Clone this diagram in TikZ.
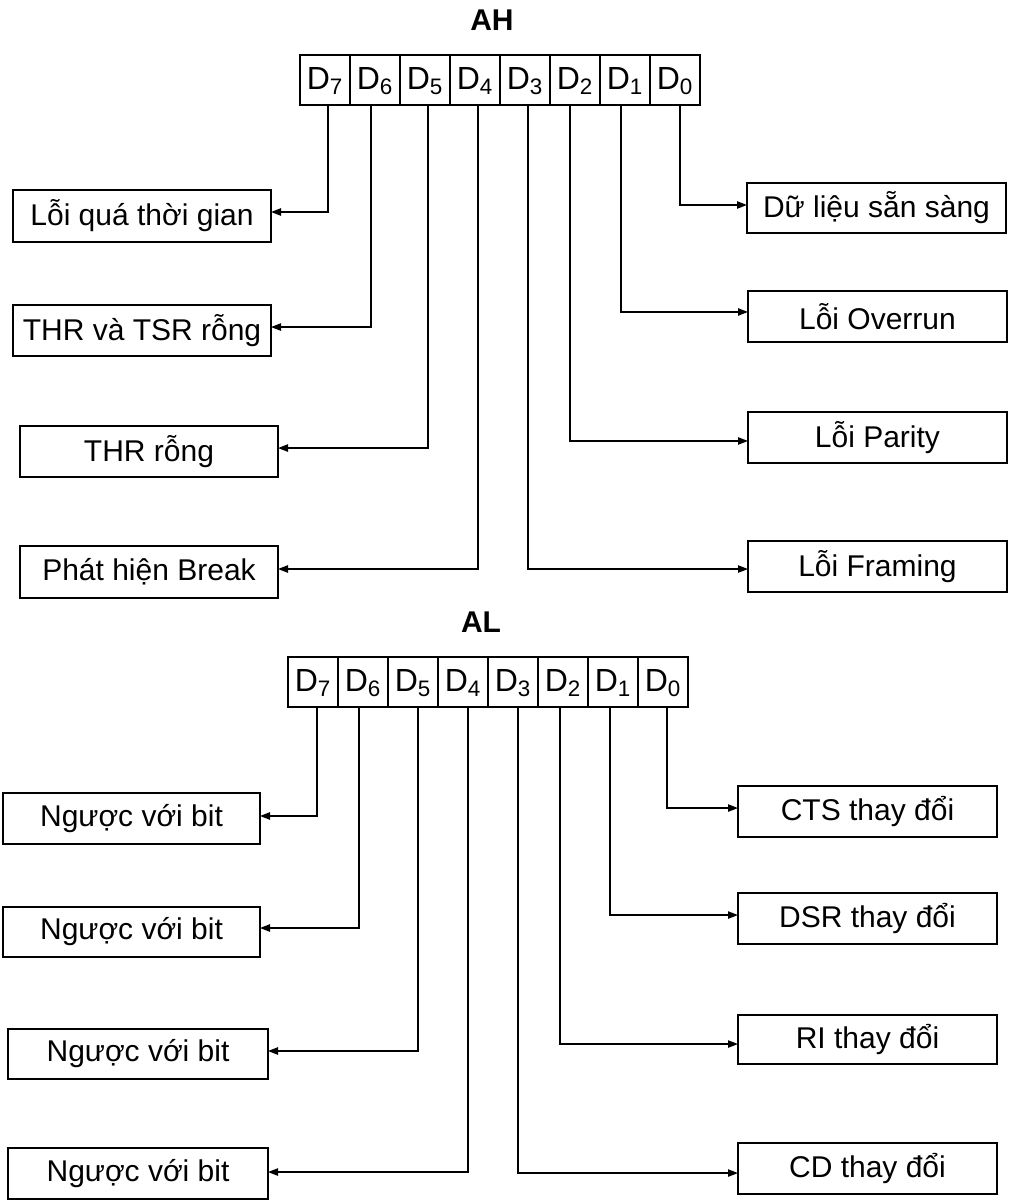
\documentclass[tikz,border=0pt]{standalone}
\usepackage{fontspec}
\setmainfont{Liberation Sans}
\usetikzlibrary{arrows.meta}

\begin{document}
\begin{tikzpicture}[x=0.75pt,y=-0.75pt,
  txt/.style={font=\fontsize{22.5}{27}\selectfont},
  title/.style={font=\fontsize{22.5}{27}\selectfont\bfseries},
  bitcell/.style={draw,line width=1.5pt,minimum width=37.5pt,minimum height=37.5pt,
    inner sep=0pt,outer sep=0pt,text height=17pt,text depth=3pt,
    font=\fontsize{24}{28}\selectfont},
  flagbox/.style 2 args={draw,line width=1.6pt,minimum width={#1*0.75pt},
    minimum height={#2*0.75pt},inner sep=0pt,outer sep=0pt,txt},
  conn/.style={line width=1.05pt,-{Triangle[length=7.5pt,width=5.5pt]}}]

\useasboundingbox (0,0) rectangle (1013,1204);

% ---------------- register AH ----------------
\node[title] (ah) at (492,20) {AH};
\foreach \i [count=\k from 0] in {7,6,5,4,3,2,1,0}
  \node[bitcell] (h\i) at (325+50*\k,80) {D\textsubscript{\i}};

\node[flagbox={258}{52}] (t1) at (142,216)   {Lỗi quá thời gian};
\node[flagbox={258}{51}] (t2) at (142,330.5) {THR và TSR rỗng};
\node[flagbox={258}{51}] (t3) at (149,451.5) {THR rỗng};
\node[flagbox={258}{52}] (t4) at (149,572)   {Phát hiện Break};

\node[flagbox={259}{50}] (r0) at (876.5,208)   {Dữ liệu sẵn sàng};
\node[flagbox={259}{51}] (r1) at (877.5,316.5) {Lỗi Overrun};
\node[flagbox={259}{51}] (r2) at (877.5,437.5) {Lỗi Parity};
\node[flagbox={259}{51}] (r3) at (877.5,566.5) {Lỗi Framing};

\draw[conn] ([xshift=2.25pt]h7.south)  |- ([yshift=3pt]t1.east);
\draw[conn] ([xshift=-3pt]h6.south)    |- ([yshift=2.6pt]t2.east);
\draw[conn] ([xshift=2.25pt]h5.south)  |- ([yshift=2.6pt]t3.east);
\draw[conn] ([xshift=2.25pt]h4.south)  |- ([yshift=2.25pt]t4.east);
\draw[conn] ([xshift=2.25pt]h3.south)  |- ([yshift=-1.9pt]r3.west);
\draw[conn] ([xshift=-3.75pt]h2.south) |- ([yshift=-2.6pt]r2.west);
\draw[conn] ([xshift=-3pt]h1.south)    |- ([yshift=3.4pt]r1.west);
\draw[conn] ([xshift=3.75pt]h0.south)  |- ([yshift=2.25pt]r0.west);

% ---------------- register AL ----------------
\node[title] (al) at (481,622) {AL};
\foreach \i [count=\k from 0] in {7,6,5,4,3,2,1,0}
  \node[bitcell] (l\i) at (313+50*\k,682) {D\textsubscript{\i}};

\node[flagbox={257}{51}] (n1) at (131.5,818.5) {Ngược với bit};
\node[flagbox={257}{50}] (n2) at (131.5,932)   {Ngược với bit};
\node[flagbox={260}{50}] (n3) at (138,1054)    {Ngược với bit};
\node[flagbox={260}{51}] (n4) at (138,1173.5)  {Ngược với bit};

\node[flagbox={259}{51}] (c0) at (867.5,811.5)  {CTS thay đổi};
\node[flagbox={259}{51}] (c1) at (867.5,918.5)  {DSR thay đổi};
\node[flagbox={259}{49}] (c2) at (867.5,1039.5) {RI thay đổi};
\node[flagbox={259}{51}] (c3) at (867.5,1168.5) {CD thay đổi};

\draw[conn] ([xshift=3pt]l7.south)     |- ([yshift=1.9pt]n1.east);
\draw[conn] ([xshift=-3pt]l6.south)    |- ([yshift=3pt]n2.east);
\draw[conn] ([xshift=3.75pt]l5.south)  |- ([yshift=2.25pt]n3.east);
\draw[conn] ([xshift=3.75pt]l4.south)  |- ([yshift=1.1pt]n4.east);
\draw[conn] ([xshift=3.75pt]l3.south)  |- ([yshift=-3.4pt]c3.west);
\draw[conn] ([xshift=-2.25pt]l2.south) |- ([yshift=-3.4pt]c2.west);
\draw[conn] ([xshift=-2.25pt]l1.south) |- ([yshift=2.6pt]c1.west);
\draw[conn] ([xshift=3pt]l0.south)     |- ([yshift=2.6pt]c0.west);

\end{tikzpicture}
\end{document}
